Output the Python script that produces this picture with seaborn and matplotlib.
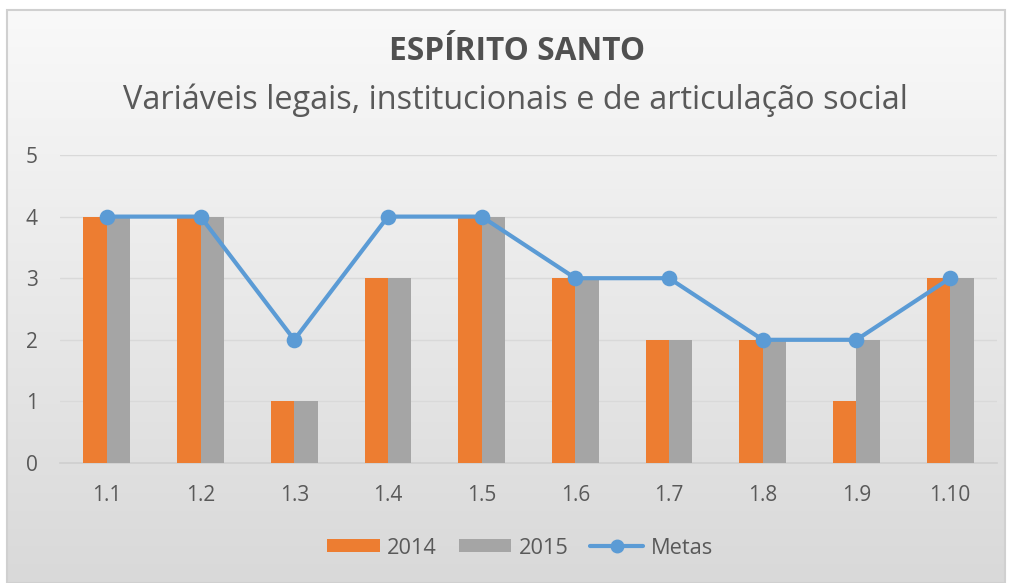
import numpy as np
import pandas as pd
import matplotlib
matplotlib.use("Agg")
import matplotlib.pyplot as plt
import seaborn as sns
from matplotlib.lines import Line2D
from matplotlib.patches import Patch, Rectangle
from matplotlib.colors import LinearSegmentedColormap

categories = ["1.1", "1.2", "1.3", "1.4", "1.5", "1.6", "1.7", "1.8", "1.9", "1.10"]
vals_2014 = [4, 4, 1, 3, 4, 3, 2, 2, 1, 3]
vals_2015 = [4, 4, 1, 3, 4, 3, 2, 2, 2, 3]
metas = [4, 4, 2, 4, 4, 3, 3, 2, 2, 3]
yticks = [0, 1, 2, 3, 4, 5]
title = "ESPÍRITO SANTO"
subtitle = "Variáveis legais, institucionais e de articulação social"

ORANGE = "#ED7D31"
GRAY = "#A5A5A5"
BLUE = "#5B9BD5"
TXT = "#595959"

sns.set_theme(style="white")
plt.rcParams["font.family"] = ["Open Sans", "DejaVu Sans"]

df = pd.DataFrame({
    "cat": categories * 2,
    "val": vals_2014 + vals_2015,
    "year": ["2014"] * len(categories) + ["2015"] * len(categories),
})

fig = plt.figure(figsize=(10.11, 5.83), dpi=100)
fig.patch.set_facecolor("white")

# background gradient panel
bg = fig.add_axes([7 / 1011, 0, (1005 - 7) / 1011, (583 - 10) / 583], zorder=-10)
grad = np.linspace(0, 1, 256).reshape(-1, 1)
cmap = LinearSegmentedColormap.from_list("bg", ["#f9f9f9", "#d9d9d9"])
bg.imshow(grad, aspect="auto", cmap=cmap, extent=[0, 1, 0, 1], origin="upper")
bg.set_axis_off()
bg.add_patch(Rectangle((0, 0), 1, 1, transform=bg.transAxes, fill=False,
                       edgecolor="#d0d0d0", linewidth=1.5, clip_on=False))

ax = fig.add_axes([60 / 1011, 1 - 463 / 583, (997 - 60) / 1011, (463 - 155) / 583])
ax.patch.set_alpha(0)

sns.barplot(data=df, x="cat", y="val", hue="year", palette=[ORANGE, GRAY],
            width=0.5, gap=0, saturation=1, ax=ax, legend=False, zorder=3,
            linewidth=0, edgecolor="none")
sns.pointplot(x=categories, y=metas, color=BLUE, ax=ax, markers="o",
              markersize=9, linewidth=3, zorder=4)

ax.set_ylim(0, 5)
ax.set_xlim(-0.5, len(categories) - 0.5)
ax.set_yticks(yticks)
ax.yaxis.grid(True, color="#d9d9d9", linewidth=1)
ax.set_axisbelow(True)
for s in ["top", "right", "left"]:
    ax.spines[s].set_visible(False)
ax.spines["bottom"].set_color("#d0d0d0")
ax.tick_params(axis="both", length=0, colors=TXT, labelsize=15)
ax.tick_params(axis="x", pad=16)
ax.tick_params(axis="y", pad=16)
ax.set_xlabel("")
ax.set_ylabel("")

fig.text(517 / 1011, 1 - 52 / 583, title, ha="center", va="center", fontsize=22.8,
         fontweight="bold", color="#505050")
fig.text(515.5 / 1011, 1 - 100 / 583, subtitle, ha="center", va="center", fontsize=23.4,
         color=TXT)

handles = [Patch(facecolor=ORANGE, edgecolor="none"),
           Patch(facecolor=GRAY, edgecolor="none"),
           Line2D([0], [0], color=BLUE, linewidth=3, marker="o", markersize=9)]
fig.legend(handles, ["2014", "2015", "Metas"], loc="center",
           bbox_to_anchor=(520 / 1011, 1 - 548 / 583), ncol=3, frameon=False,
           fontsize=15.7, labelcolor=TXT, handlelength=2.4, handleheight=0.55,
           handletextpad=0.35, columnspacing=1.0)

fig.savefig("out.png", dpi=100)
